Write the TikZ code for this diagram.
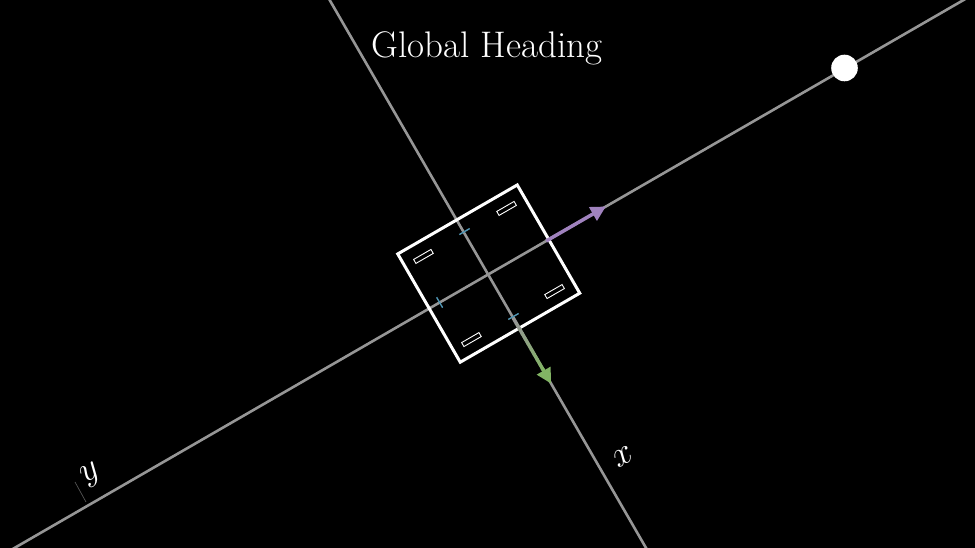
\documentclass[tikz,border=0pt]{standalone}
\usetikzlibrary{arrows.meta}
\definecolor{axisgray}{RGB}{150,150,150}
\definecolor{tickblue}{RGB}{80,150,180}
\definecolor{headpurple}{RGB}{160,130,190}
\definecolor{headgreen}{RGB}{130,180,100}
\definecolor{faintgray}{RGB}{85,85,85}
\tikzset{
  axisline/.style={axisgray, line width=2.6pt},
  bodybox/.style={white, line width=3pt, line join=miter},
  wheelbox/.style={white, line width=0.9pt},
  tickmark/.style={tickblue, line width=1.4pt},
  lbl/.style={white, inner sep=0pt},
}
\begin{document}
\begin{tikzpicture}[x=1pt,y=-1pt]
\fill[black] (0,0) rectangle (975,548);
\useasboundingbox (0,0) rectangle (975,548);
\begin{scope}
\clip (0,0) rectangle (975,548);
% faint tick near y label
\draw[faintgray, line width=0.7pt] (75,482) -- (86,502);
\begin{scope}[shift={(489,274)}, x={(0.866pt,0.5pt)}, y={(0.5pt,-0.866pt)}]
  \coordinate (C) at (0,0);
  \coordinate (ya) at (-600,0);
  \coordinate (yb) at (600,0);
  \coordinate (xa) at (-1,-340);
  \coordinate (xb) at (-1,340);
  \draw[axisline] (ya) -- (yb);
  \draw[axisline] (xa) -- (xb);
  % body
  \coordinate (b1) at (-69,-63);
  \coordinate (b2) at (69,-63);
  \coordinate (b3) at (69,62);
  \coordinate (b4) at (-69,62);
  \draw[bodybox] (b1) -- (b2) -- (b3) -- (b4) -- cycle;
  % wheels
  \foreach \wu/\wv in {-48/-48, 48/-48, 48/48, -48/48}{
    \draw[wheelbox] (\wu-10,\wv-2.3) -- (\wu+10,\wv-2.3) -- (\wu+10,\wv+2.3) -- (\wu-10,\wv+2.3) -- cycle;
  }
  % ticks
  \draw[tickmark] (-6,-49) -- (6,-49);
  \draw[tickmark] (-6,49) -- (6,49);
  \draw[tickmark] (-57,-6) -- (-57,6);
  % purple heading arrow
  \coordinate (pa) at (66,0);
  \coordinate (pb) at (135,0);
  \draw[headpurple, line width=3.5pt, -{Triangle[length=15pt,width=15pt]}] (pa) -- (pb);
  % green arrow with gradient
  \foreach \i in {0,...,9}{
    \pgfmathsetmacro{\pct}{\i*10}
    \draw[headgreen!\pct!axisgray, line width=3.5pt] (-1,50+\i*6) -- (-1,56.5+\i*6);
  }
  \coordinate (ga) at (-1,108);
  \coordinate (gb) at (-1,126);
  \draw[headgreen, line width=3.5pt, -{Triangle[length=15pt,width=15pt]}] (ga) -- (gb);
\end{scope}
\end{scope}
\node[circle, fill=white, minimum size=26.6pt, inner sep=0pt] (dot) at (844.5,68) {};
\node[lbl, font=\fontsize{37}{44}\selectfont] (title) at (487,48) {Global Heading};
\node[lbl, rotate=30, font=\fontsize{24}{28}\selectfont] (xl) at (623,457) {\scalebox{1.45}{$x$}};
\node[lbl, rotate=30, font=\fontsize{24}{28}\selectfont] (yl) at (91,475) {\scalebox{1.45}{$y$}};
\end{tikzpicture}
\end{document}
